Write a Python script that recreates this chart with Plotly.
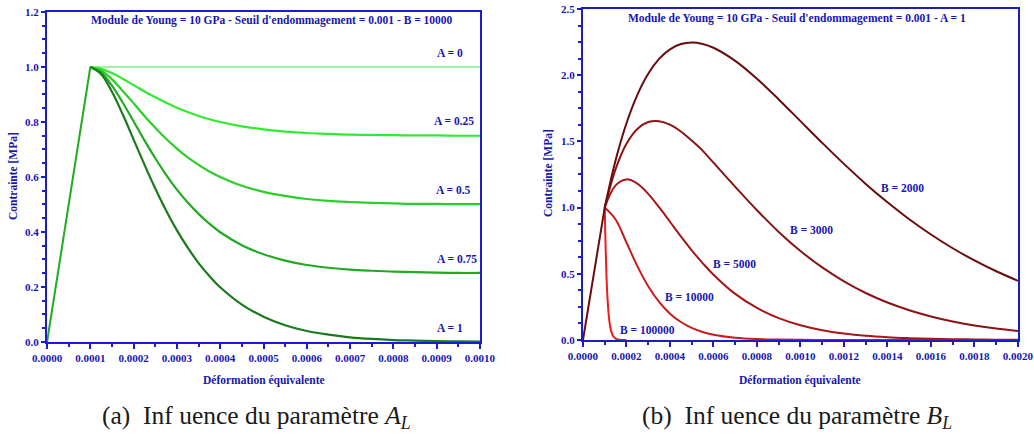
import plotly.graph_objects as go

# ---------------- Data: left panel (influence of A, B = 10000) ----------------
rise_x = [0.0, 0.0001]
rise_y = [0.0, 1.0]

a_x = [0.0001, 0.000125, 0.00015, 0.000175, 0.0002, 0.000225, 0.00025, 0.000275,
       0.0003, 0.000325, 0.00035, 0.000375, 0.0004, 0.00045, 0.0005, 0.00055,
       0.0006, 0.00065, 0.0007, 0.00075, 0.0008, 0.00085, 0.0009, 0.00095, 0.001]
a_labels = ["A = 0", "A = 0.25", "A = 0.5", "A = 0.75", "A = 1"]
y_a0 = [1.0] * 25
y_a025 = [1.0, 0.993, 0.978, 0.957, 0.934, 0.911, 0.890, 0.870, 0.852, 0.836, 0.822, 0.810,
          0.800, 0.784, 0.773, 0.765, 0.760, 0.757, 0.754, 0.753, 0.752, 0.751, 0.751, 0.750, 0.750]
y_a05 = [1.0, 0.987, 0.955, 0.913, 0.868, 0.822, 0.779, 0.739, 0.703, 0.671, 0.644, 0.620,
         0.600, 0.568, 0.546, 0.531, 0.520, 0.513, 0.509, 0.506, 0.504, 0.502, 0.502, 0.501, 0.501]
y_a075 = [1.0, 0.980, 0.932, 0.870, 0.802, 0.733, 0.668, 0.608, 0.554, 0.507, 0.466, 0.430,
          0.399, 0.352, 0.319, 0.296, 0.280, 0.270, 0.263, 0.259, 0.256, 0.254, 0.252, 0.251, 0.251]
y_a1 = [1.0, 0.974, 0.910, 0.827, 0.736, 0.645, 0.558, 0.478, 0.406, 0.343, 0.287, 0.240,
        0.199, 0.136, 0.092, 0.061, 0.040, 0.027, 0.017, 0.011, 0.007, 0.005, 0.003, 0.002, 0.001]
a_label_x = [0.000931, 0.00094, 0.000938, 0.000947, 0.00093]
a_label_y = [1.051, 0.804, 0.553, 0.302, 0.051]

# ---------------- Data: right panel (influence of B, A = 1) ----------------
b_x = [0.0001, 0.00015, 0.0002, 0.00025, 0.0003, 0.00035, 0.0004, 0.00045, 0.0005, 0.00055,
       0.0006, 0.0007, 0.0008, 0.0009, 0.001, 0.0011, 0.0012, 0.0013, 0.0014, 0.0015,
       0.0016, 0.0017, 0.0018, 0.0019, 0.002]
b_labels = ["B = 2000", "B = 3000", "B = 5000", "B = 10000", "B = 100000"]
y_b2000 = [1.0, 1.357, 1.637, 1.852, 2.011, 2.123, 2.195, 2.235, 2.247, 2.236, 2.207, 2.108,
           1.973, 1.817, 1.653, 1.489, 1.330, 1.179, 1.040, 0.912, 0.797, 0.693, 0.601, 0.519, 0.447]
y_b3000 = [1.0, 1.291, 1.482, 1.594, 1.646, 1.653, 1.626, 1.575, 1.506, 1.430, 1.339, 1.157,
           0.980, 0.816, 0.672, 0.548, 0.443, 0.355, 0.283, 0.225, 0.178, 0.140, 0.110, 0.086, 0.067]
y_b5000 = [1.0, 1.168, 1.213, 1.181, 1.104, 1.003, 0.893, 0.782, 0.677, 0.581, 0.493, 0.348,
           0.242, 0.165, 0.111, 0.074, 0.049, 0.032, 0.021, 0.014, 0.009, 0.006, 0.004, 0.002, 0.002]
y_b10000 = [1.0, 0.910, 0.736, 0.558, 0.406, 0.287, 0.199, 0.136, 0.092, 0.061, 0.040, 0.017,
            0.007, 0.003, 0.001, 0.0005, 0.0002, 0.0, 0.0, 0.0, 0.0, 0.0]
b100k_x = [0.0001, 0.00011, 0.00012, 0.00013, 0.00014, 0.00015, 0.00016, 0.00018, 0.0002]
y_b100000 = [1.0, 0.405, 0.162, 0.065, 0.026, 0.010, 0.004, 0.0006, 0.0]
b_rise_x = [0.0, 0.0001]
b_rise_y = [0.0, 1.0]
b_label_x = [0.001471, 0.001053, 0.000699, 0.000492, 0.000299]
b_label_y = [1.148, 0.831, 0.574, 0.325, 0.076]

# ---------------- Styles ----------------
AXIS_BLUE = "#1c1cc8"
TEXT_BLUE = "#1616b4"
SERIF = "Liberation Serif, DejaVu Serif, serif"
green_cols = ["#80f080", "#30ec30", "#28d028", "#22aa22", "#1b7a1b"]
red_cols = ["#6a0c0c", "#8a1414", "#a81616", "#c81c1c", "#f01c1c"]

fig = go.Figure()

a_series = [y_a0, y_a025, y_a05, y_a075, y_a1]
for i, ys in enumerate(a_series):
    fig.add_trace(go.Scatter(x=a_x, y=ys, mode="lines", xaxis="x", yaxis="y",
                             line=dict(color=green_cols[i], width=1.6 if i == 0 else 2.2,
                                       shape="spline"),
                             showlegend=False, hoverinfo="skip"))
fig.add_trace(go.Scatter(x=rise_x, y=rise_y, mode="lines", xaxis="x", yaxis="y",
                         line=dict(color=green_cols[3], width=2),
                         showlegend=False, hoverinfo="skip"))

b_series = [(b_x, y_b2000), (b_x, y_b3000), (b_x, y_b5000),
            (b_x[:len(y_b10000)], y_b10000), (b100k_x, y_b100000)]
for i in range(len(b_series) - 1, -1, -1):
    xs, ys = b_series[i]
    fig.add_trace(go.Scatter(x=xs, y=ys, mode="lines", xaxis="x2", yaxis="y2",
                             line=dict(color=red_cols[i], width=2, shape="spline"),
                             showlegend=False, hoverinfo="skip"))
fig.add_trace(go.Scatter(x=b_rise_x, y=b_rise_y, mode="lines", xaxis="x2", yaxis="y2",
                         line=dict(color=red_cols[0], width=2),
                         showlegend=False, hoverinfo="skip"))

tickfont = dict(family=SERIF, size=11, color=TEXT_BLUE, weight="bold")


def axis_common(**kw):
    d = dict(showline=True, linecolor=AXIS_BLUE, linewidth=2, mirror=True,
             ticks="outside", ticklen=5, tickwidth=1.5, tickcolor=AXIS_BLUE,
             showgrid=False, zeroline=False, tickfont=tickfont, fixedrange=True,
             automargin=False)
    d.update(kw)
    return d


fig.update_layout(
    width=1034, height=434, autosize=False,
    margin=dict(l=0, r=0, t=0, b=0, pad=0),
    paper_bgcolor="white", plot_bgcolor="white",
    font=dict(family=SERIF),
    xaxis=axis_common(domain=[0.0455, 0.4642], range=[0, 0.001], dtick=0.0001,
                      tickformat=".4f", anchor="y",
                      minor=dict(ticks="outside", ticklen=3, dtick=0.00005, tickcolor=AXIS_BLUE)),
    yaxis=axis_common(domain=[0.212, 0.9724], range=[0, 1.2], dtick=0.2,
                      tickformat=".1f", anchor="x", ticklen=4,
                      minor=dict(ticks="outside", ticklen=3, dtick=0.05, tickcolor=AXIS_BLUE)),
    xaxis2=axis_common(domain=[0.5638, 0.9845], range=[0, 0.002], dtick=0.0002,
                       tickformat=".4f", anchor="y2",
                       minor=dict(ticks="outside", ticklen=3, dtick=0.0001, tickcolor=AXIS_BLUE)),
    yaxis2=axis_common(domain=[0.2166, 0.9793], range=[0, 2.5], dtick=0.5,
                       tickformat=".1f", anchor="x2", ticklen=4,
                       minor=dict(ticks="outside", ticklen=3, dtick=0.125, tickcolor=AXIS_BLUE)),
)

annots = []
lab_font = dict(family=SERIF, size=11.5, color=TEXT_BLUE, weight="bold")
for t, x, y in zip(a_labels, a_label_x, a_label_y):
    annots.append(dict(text=t, x=x, y=y, xref="x", yref="y", showarrow=False, font=lab_font,
                       xanchor="center", yanchor="middle"))
for t, x, y in zip(b_labels, b_label_x, b_label_y):
    annots.append(dict(text=t, x=x, y=y, xref="x2", yref="y2", showarrow=False, font=lab_font,
                       xanchor="center", yanchor="middle"))


def paper_text(text, px, py, font, angle=0):
    return dict(text=text, x=px / 1034, y=1 - py / 434, xref="paper", yref="paper",
                showarrow=False, font=font, xanchor="center", yanchor="middle",
                textangle=angle)


# panel titles inside plot area
annots.append(paper_text("Module de Young = 10 GPa - Seuil d'endommagement = 0.001 - B = 10000",
                         272, 21, lab_font))
annots.append(paper_text("Module de Young = 10 GPa - Seuil d'endommagement = 0.001 - A = 1",
                         797, 18, lab_font))
# axis titles
annots.append(paper_text("Déformation équivalente", 264, 380, lab_font))
annots.append(paper_text("Déformation équivalente", 800, 380, lab_font))
annots.append(paper_text("Contrainte [MPa]", 13, 176, lab_font, -90))
annots.append(paper_text("Contrainte [MPa]", 548, 173, lab_font, -90))
# captions
cap_font = dict(family=SERIF, size=25.5, color="#1a1a1a")
annots.append(paper_text("(a)  Inf uence du paramètre <i>A</i><sub><i>L</i></sub>",
                         256, 417, cap_font))
annots.append(paper_text("(b)  Inf uence du paramètre <i>B</i><sub><i>L</i></sub>",
                         797, 417, cap_font))

fig.update_layout(annotations=annots)
fig.write_html("out.html", config={"displayModeBar": False},
               post_script="document.body.style.margin='0px';document.body.style.overflow='hidden';")
